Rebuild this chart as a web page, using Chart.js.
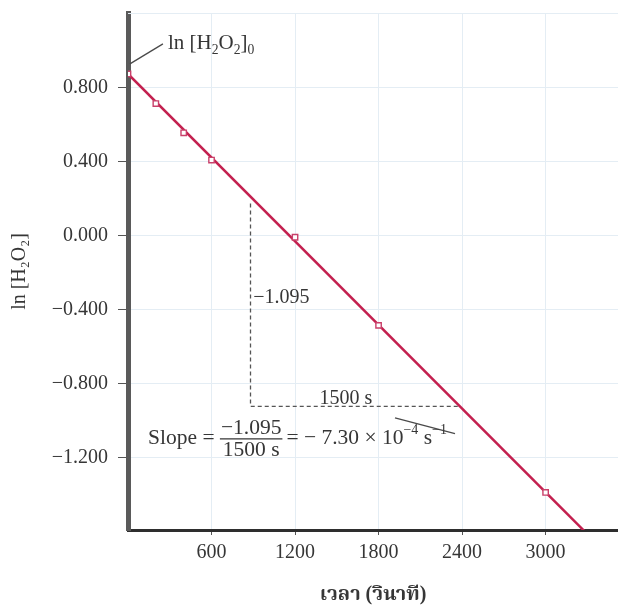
<!DOCTYPE html>
<html>
<head>
<meta charset="utf-8">
<script src="https://cdn.jsdelivr.net/npm/chart.js@4.4.1/dist/chart.umd.min.js"></script>
<style>
  html, body { margin: 0; padding: 0; background: #fff; overflow: hidden; }
  #wrap { position: relative; width: 618px; height: 609px; }
  canvas { display: block; }
</style>
</head>
<body>
<div id="wrap"><canvas id="lnChart"></canvas></div>
<script>
// 測定点: 時間 (s) と ln[H2O2]
const times = [0, 200, 400, 600, 1200, 1800, 3000];
const lnConc = [0.874, 0.714, 0.556, 0.409, -0.008, -0.484, -1.386];

// 直線の両端 (グラフ外まで伸ばしてクリップ)
const fitTimes = [0, 3300];
const fitLn = [0.874, -1.611];

// 傾き三角形: 縦 -1.095, 横 1500 s
const triTimes = [880, 880, 2380];
const triLn = [0.174, -0.921, -0.921];

// 目盛り
const xTicks = [600, 1200, 1800, 2400, 3000];
const yTicks = [0.8, 0.4, 0.0, -0.4, -0.8, -1.2];

const serif = '"Liberation Serif", "Times New Roman", serif';
const textColor = '#363636';
const lineRed = '#c3204f';

const toPoints = (xs, ys) => xs.map((v, i) => ({ x: v, y: ys[i] }));

// 下付き・上付きを含む文字列を左から順に描く
function rich(ctx, x, y, parts, size) {
    let cx = x;
    parts.forEach(([txt, kind]) => {
        let fs = size, dy = 0;
        if (kind === 'sub') { fs = size * 0.65; dy = size * 0.3; }
        if (kind === 'sup') { fs = size * 0.65; dy = -size * 0.38; }
        ctx.font = fs + 'px ' + serif;
        ctx.fillText(txt, cx, y + dy);
        cx += ctx.measureText(txt).width;
    });
    return cx;
}

const notesPlugin = {
    id: 'notes',
    afterDatasetsDraw(chart) {
        const { ctx, chartArea, scales: { x, y } } = chart;
        const px = v => x.getPixelForValue(v);
        const py = v => y.getPixelForValue(v);
        ctx.save();

        // 上端の薄い枠線
        ctx.strokeStyle = '#e4edf4';
        ctx.lineWidth = 1;
        ctx.beginPath();
        ctx.moveTo(chartArea.left, chartArea.top + 0.5);
        ctx.lineTo(chartArea.right, chartArea.top + 0.5);
        ctx.stroke();

        ctx.fillStyle = textColor;
        ctx.textBaseline = 'middle';
        ctx.textAlign = 'left';

        // 切片のラベル
        rich(ctx, px(287), py(1.036),
            [['ln [H'], ['2', 'sub'], ['O'], ['2', 'sub'], [']'], ['0', 'sub']], 21);

        // 三角形の辺の値
        ctx.font = '20px ' + serif;
        ctx.fillText('\u22121.095', px(900), py(-0.333));
        ctx.textAlign = 'center';
        ctx.fillText('1500 s', px(1566), py(-0.878));

        // 傾きの式
        ctx.textAlign = 'left';
        const size = 21.5;
        const midY = py(-1.094);
        let cx = px(144);
        ctx.font = size + 'px ' + serif;
        ctx.fillText('Slope = ', cx, midY);
        cx += ctx.measureText('Slope = ').width;
        const num = '\u22121.095', den = '1500 s';
        const fw = Math.max(ctx.measureText(num).width, ctx.measureText(den).width) + 2;
        ctx.textAlign = 'center';
        ctx.fillText(num, cx + fw / 2, midY - 10);
        ctx.fillText(den, cx + fw / 2, midY + 12);
        ctx.strokeStyle = textColor;
        ctx.lineWidth = 1.2;
        ctx.beginPath();
        ctx.moveTo(cx, midY + 0.5);
        ctx.lineTo(cx + fw, midY + 0.5);
        ctx.stroke();
        cx += fw + 4;
        ctx.textAlign = 'left';
        rich(ctx, cx, midY,
            [['= \u2212 7.30 \u00d7 10'], ['\u22124', 'sup'], [' s'], ['\u22121', 'sup']], size);
        ctx.restore();
    }
};

const ctx = document.getElementById('lnChart').getContext('2d');
new Chart(ctx, {
    type: 'scatter',
    data: {
        datasets: [
            {
                // 測定点
                data: toPoints(times, lnConc),
                showLine: false,
                pointStyle: 'rect',
                pointRadius: 3.8,
                pointBackgroundColor: '#fff',
                pointBorderColor: '#c9406a',
                pointBorderWidth: 1.4,
                order: 0
            },
            {
                // 直線
                data: toPoints(fitTimes, fitLn),
                showLine: true,
                borderColor: lineRed,
                borderWidth: 2.5,
                pointRadius: 0,
                order: 1
            },
            {
                // 傾き三角形
                data: toPoints(triTimes, triLn),
                showLine: true,
                borderColor: '#555',
                borderWidth: 1.3,
                borderDash: [4, 3],
                pointRadius: 0,
                order: 2
            },
            {
                // 切片への引き出し線
                data: [{ x: 14, y: 0.928 }, { x: 251, y: 1.036 }],
                showLine: true,
                borderColor: '#4a4a4a',
                borderWidth: 1.3,
                pointRadius: 0,
                order: 2
            },
            {
                // 式への引き出し線
                data: [{ x: 1918, y: -0.983 }, { x: 2349, y: -1.069 }],
                showLine: true,
                borderColor: '#4a4a4a',
                borderWidth: 1.3,
                pointRadius: 0,
                order: 2
            }
        ]
    },
    options: {
        responsive: true,
        maintainAspectRatio: false,
        animation: false,
        layout: { autoPadding: false, padding: { top: 13, right: 0, bottom: 0, left: 0 } },
        plugins: {
            legend: { display: false },
            tooltip: { enabled: false }
        },
        scales: {
            x: {
                type: 'linear',
                min: 0,
                max: 3520,
                afterBuildTicks: s => { s.ticks = xTicks.map(v => ({ value: v })); },
                afterFit: s => { s.height = 79; s.paddingLeft = 0; s.paddingRight = 0; },
                grid: { color: '#e4edf4', tickColor: '#555', tickLength: 5, lineWidth: 1 },
                border: { color: '#2e2e2e', width: 3 },
                ticks: {
                    font: { family: serif, size: 20 },
                    color: textColor,
                    padding: 6,
                    maxRotation: 0,
                    callback: v => String(v)
                },
                title: {
                    display: true,
                    text: 'เวลา (วินาที)',
                    font: { family: serif + ', "Noto Serif Thai", "Noto Sans Thai", sans-serif', size: 20, weight: 'bold' },
                    color: textColor,
                    padding: { top: 0, bottom: 2 }
                }
            },
            y: {
                type: 'linear',
                min: -1.589,
                max: 1.203,
                afterBuildTicks: s => { s.ticks = yTicks.map(v => ({ value: v })); },
                afterFit: s => { s.width = 128; s.paddingTop = 0; s.paddingBottom = 0; },
                grid: { color: '#e4edf4', tickColor: '#555', tickLength: 10, lineWidth: 1 },
                border: { color: '#5a5a5a', width: 5 },
                ticks: {
                    font: { family: serif, size: 20 },
                    color: textColor,
                    padding: 10,
                    callback: v => (v < 0 ? '\u2212' : '') + Math.abs(v).toFixed(3)
                },
                title: {
                    display: true,
                    text: 'ln [H\u2082O\u2082]',
                    font: { family: serif, size: 20 },
                    color: textColor,
                    padding: { top: 8, bottom: 0 }
                }
            }
        }
    },
    plugins: [notesPlugin]
});
</script>
</body>
</html>
